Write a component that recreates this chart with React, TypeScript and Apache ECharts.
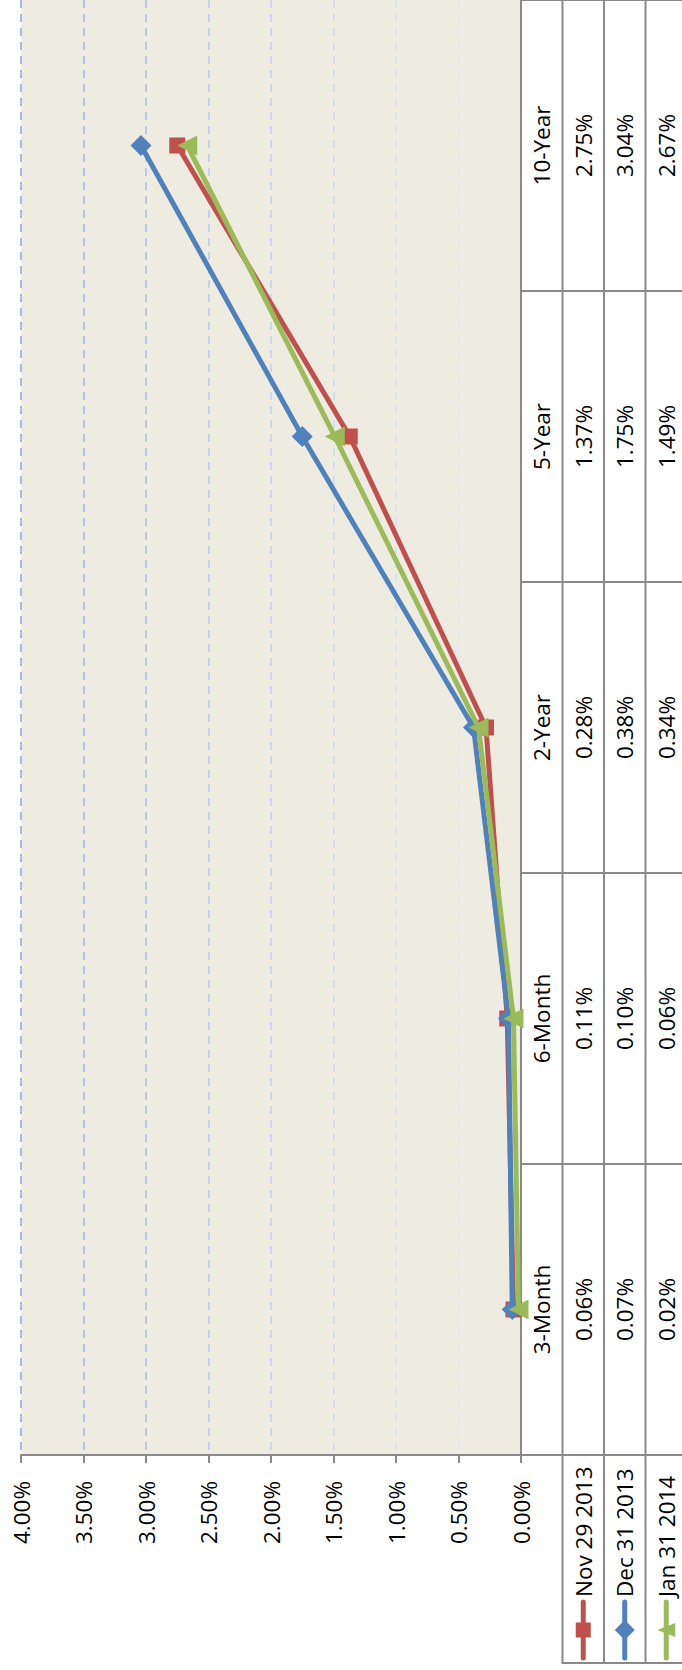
import React, { useEffect, useRef } from "react";
import * as echarts from "echarts";

const categories = ["3-Month", "6-Month", "2-Year", "5-Year", "10-Year"];
const seriesNames = ["Nov 29 2013", "Dec 31 2013", "Jan 31 2014"];
const nov29_2013 = [0.06, 0.11, 0.28, 1.37, 2.75];
const dec31_2013 = [0.07, 0.1, 0.38, 1.75, 3.04];
const jan31_2014 = [0.02, 0.06, 0.34, 1.49, 2.67];
const seriesValues = [nov29_2013, dec31_2013, jan31_2014];
const valueMin = 0;
const valueMax = 4;
const valueStep = 0.5;

const colors = ["#C0504D", "#4F81BD", "#9BBB59"];
const symbols = ["rect", "diamond", "triangle"];
const symbolSizes = [16, 21, 20];
const symbolRotates = [0, 0, 90];
const gridColors = ["#898989", "#E2E8F3", "#DAE3F2", "#D1DDF1", "#C9D8F0", "#C0D2EF", "#B6CCEE", "#ACC5EC", "#A0BDEA"];

const FONT = "'Open Sans', sans-serif";
const FS = 22.5;
const GRAY = "#898989";

const PLOT_L = 21;
const PLOT_R = 521;
const PLOT_T = -5;
const PLOT_B = 1455;
const COLS = [521, 562.5, 604, 645.5, 687];
const TABLE_BOTTOM = 1663;

const fmt = (v: number) => v.toFixed(2) + "%";

function legendItem(i: number) {
  const cx = (COLS[i + 1] + COLS[i + 2]) / 2;
  const mid = 28;
  let marker: any;
  if (i === 0) {
    marker = { type: "rect", shape: { x: mid - 7.5, y: -7.5, width: 15, height: 15 }, style: { fill: colors[i] } };
  } else if (i === 1) {
    marker = { type: "polygon", shape: { points: [[mid - 10, 0], [mid, -10], [mid + 10, 0], [mid, 10]] }, style: { fill: colors[i] } };
  } else {
    marker = { type: "polygon", shape: { points: [[mid, -9], [mid + 7, 9], [mid - 7, 9]] }, style: { fill: colors[i] } };
  }
  return {
    type: "group",
    x: cx,
    y: 1658,
    rotation: Math.PI / 2,
    children: [
      { type: "line", shape: { x1: 0, y1: 0, x2: 56, y2: 0 }, style: { stroke: colors[i], lineWidth: 5, lineCap: "round" } },
      marker,
      {
        type: "text",
        style: { text: seriesNames[i], x: 61, y: 0, align: "left", verticalAlign: "middle", fontSize: FS, fontFamily: FONT, fill: "#000" },
      },
    ],
  };
}

export default function App() {
  const ref = useRef<HTMLDivElement>(null);
  useEffect(() => {
    if (!ref.current) return;
    const chart = echarts.init(ref.current, null, { renderer: "svg" });
    const valueYAxis = (k: number, margin: number) => ({
      type: "category",
      gridIndex: 0,
      position: "right",
      offset: 0,
      data: categories,
      axisLine: { show: false },
      axisTick: { show: false },
      splitLine: { show: false },
      axisLabel: {
        interval: 0,
        rotate: 90,
        margin,
        align: "center",
        verticalAlign: "middle",
        fontSize: FS,
        fontFamily: FONT,
        color: "#000",
        formatter: (_v: string, idx: number) => fmt(seriesValues[k][idx]),
      },
    });
    const option: any = {
      animation: false,
      backgroundColor: "#fff",
      textStyle: { fontFamily: FONT },
      grid: {
        left: PLOT_L,
        top: PLOT_T,
        width: PLOT_R - PLOT_L,
        height: PLOT_B - PLOT_T,
        show: true,
        backgroundColor: "#EEECE1",
        borderWidth: 0,
        containLabel: false,
      },
      xAxis: {
        type: "value",
        inverse: true,
        min: valueMin,
        max: valueMax,
        interval: valueStep,
        position: "bottom",
        axisLine: { show: true, onZero: false, lineStyle: { color: GRAY, width: 2 } },
        axisTick: { show: true, length: 8, lineStyle: { color: GRAY, width: 2 } },
        axisLabel: {
          rotate: 90,
          margin: 26,
          fontSize: FS,
          fontFamily: FONT,
          color: "#000",
          formatter: (v: number) => fmt(v),
        },
        splitLine: { show: true, lineStyle: { type: [8, 6], width: 2, color: gridColors } },
      },
      yAxis: [
        {
          type: "category",
          position: "right",
          data: categories,
          axisLine: { show: true, onZero: false, lineStyle: { color: GRAY, width: 2 } },
          axisTick: { show: true, inside: false, length: COLS[4] - COLS[0] + 4, lineStyle: { color: GRAY, width: 2 } },
          splitLine: { show: false },
          axisLabel: {
            interval: 0,
            rotate: 90,
            margin: 20.5,
            align: "center",
            verticalAlign: "middle",
            fontSize: FS,
            fontFamily: FONT,
            color: "#000",
          },
        },
        valueYAxis(0, 62),
        valueYAxis(1, 103.5),
        valueYAxis(2, 145),
      ],
      series: seriesValues.map((vals, i) => ({
        type: "line",
        name: seriesNames[i],
        xAxisIndex: 0,
        yAxisIndex: 0,
        data: vals.map((v, j) => [v, categories[j]]),
        symbol: symbols[i],
        symbolSize: symbolSizes[i],
        symbolRotate: symbolRotates[i],
        lineStyle: { color: colors[i], width: 5 },
        itemStyle: { color: colors[i] },
        z: 2 + i,
      })),
      graphic: [
        ...[1, 2, 3].map((k) => ({
          type: "line",
          shape: { x1: COLS[k], y1: -5, x2: COLS[k], y2: TABLE_BOTTOM },
          style: { stroke: GRAY, lineWidth: 2 },
          silent: true,
        })),
        {
          type: "line",
          shape: { x1: COLS[1] - 1, y1: TABLE_BOTTOM, x2: COLS[4] + 4, y2: TABLE_BOTTOM },
          style: { stroke: GRAY, lineWidth: 2 },
          silent: true,
        },
        ...[0, 1, 2].map((i) => legendItem(i)),
      ],
    };
    chart.setOption(option);
    return () => chart.dispose();
  }, []);
  return <div ref={ref} style={{ position: "absolute", left: 0, top: 0, width: 682, height: 1670 }} />;
}
